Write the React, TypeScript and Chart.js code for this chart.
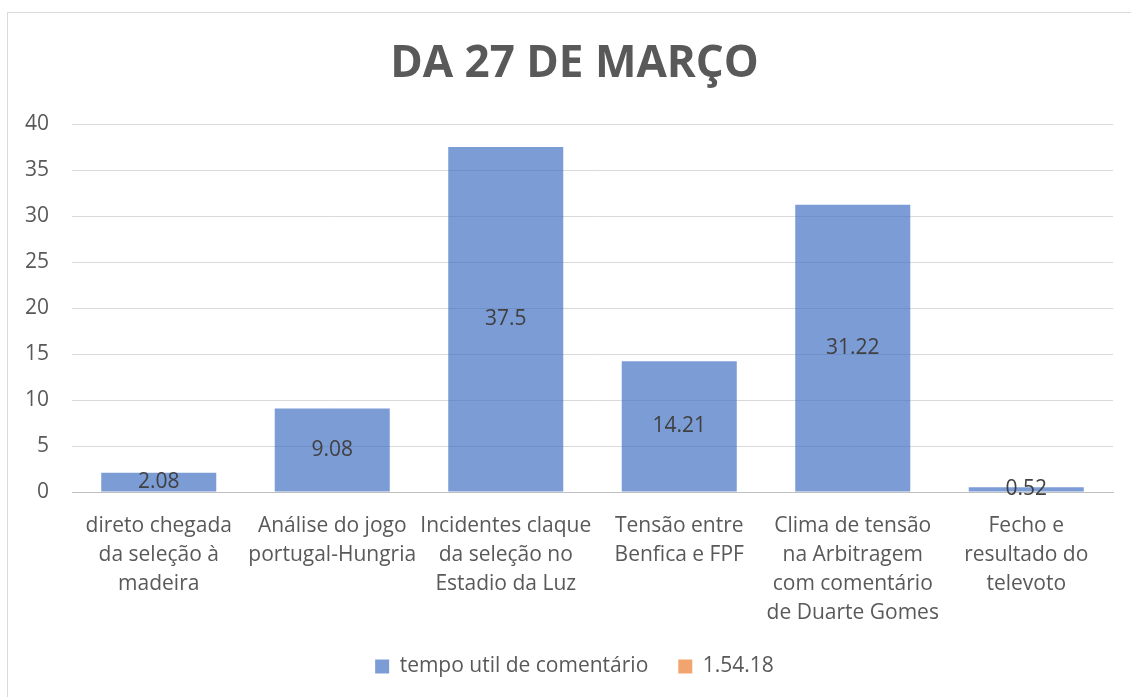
import React, { useEffect, useRef } from "react";
import { Chart, registerables } from "chart.js";

Chart.register(...registerables);

const TITLE = "DA 27 DE MARÇO";
const CATEGORIES: string[][] = [
  ["direto chegada", "da seleção à", "madeira"],
  ["Análise do jogo", "portugal-Hungria"],
  ["Incidentes claque", "da seleção no", "Estadio da Luz"],
  ["Tensão entre", "Benfica e FPF"],
  ["Clima de tensão", "na Arbitragem", "com comentário", "de Duarte Gomes"],
  ["Fecho e", "resultado do", "televoto"],
];
const SERIES_1_NAME = "tempo util de comentário";
const SERIES_1_VALUES = [2.08, 9.08, 37.5, 14.21, 31.22, 0.52];
const SERIES_2_NAME = "1.54.18";
const SERIES_2_VALUES: (number | null)[] = [null, null, null, null, null, null];
const Y_MIN = 0;
const Y_MAX = 40;
const Y_STEP = 5;

const FONT = "'Open Sans', 'Noto Sans', sans-serif";
const TEXT = "#595959";

const framePlugin = {
  id: "frame",
  beforeDraw(chart: any) {
    const ctx = chart.ctx;
    ctx.save();
    ctx.fillStyle = "#ffffff";
    ctx.fillRect(0, 0, chart.width, chart.height);
    ctx.strokeStyle = "#D9D9D9";
    ctx.lineWidth = 1;
    ctx.beginPath();
    ctx.moveTo(7.5, chart.height);
    ctx.lineTo(7.5, 12.5);
    ctx.lineTo(chart.width, 12.5);
    ctx.stroke();
    ctx.restore();
  },
};

// y tick labels drawn from the y scale's own ticks (the scale box is narrow, so the
// built-in labels would be clipped)
const yLabelPlugin = {
  id: "yLabels",
  afterDraw(chart: any) {
    const scale = chart.scales.y;
    const ctx = chart.ctx;
    ctx.save();
    ctx.font = `21px ${FONT}`;
    ctx.fillStyle = TEXT;
    ctx.textAlign = "right";
    ctx.textBaseline = "middle";
    scale.ticks.forEach((t: any, i: number) => {
      const y = scale.getPixelForTick(i);
      ctx.fillText(String(t.value), chart.chartArea.left - 23, y);
    });
    ctx.restore();
  },
};

const valueLabelPlugin = {
  id: "valueLabels",
  afterDatasetsDraw(chart: any) {
    const ctx = chart.ctx;
    const meta = chart.getDatasetMeta(0);
    const data = chart.data.datasets[0].data as number[];
    ctx.save();
    ctx.font = `21px ${FONT}`;
    ctx.fillStyle = "#404040";
    ctx.textAlign = "center";
    ctx.textBaseline = "middle";
    meta.data.forEach((bar: any, i: number) => {
      const y = (bar.y + bar.base) / 2;
      ctx.fillText(String(data[i]), bar.x, y);
    });
    ctx.restore();
  },
};

export default function App() {
  const ref = useRef<HTMLCanvasElement | null>(null);
  useEffect(() => {
    if (!ref.current) return;
    const chart = new Chart(ref.current, {
      type: "bar",
      data: {
        labels: CATEGORIES,
        datasets: [
          {
            label: SERIES_1_NAME,
            data: SERIES_1_VALUES,
            backgroundColor: "rgba(68,114,196,0.7)",
            borderWidth: 0,
          },
          {
            label: SERIES_2_NAME,
            data: SERIES_2_VALUES,
            backgroundColor: "rgba(237,125,49,0.7)",
            borderWidth: 0,
          },
        ],
      },
      options: {
        responsive: false,
        animation: false,
        datasets: {
          bar: {
            grouped: false,
            categoryPercentage: 1,
            barPercentage: 0.663,
          },
        },
        layout: { padding: { left: 36, right: 18, top: 0, bottom: 10 } },
        plugins: {
          title: {
            display: true,
            text: TITLE,
            color: TEXT,
            font: { family: FONT, size: 44, weight: "bold", lineHeight: 1.2 },
            padding: { top: 38, bottom: 33.2 },
          },
          legend: {
            position: "bottom",
            labels: {
              boxWidth: 14,
              boxHeight: 14,
              color: TEXT,
              font: { family: FONT, size: 21 },
              padding: 30,
            },
          },
          tooltip: { enabled: false },
        },
        scales: {
          x: {
            afterFit(scale: any) {
              scale.height = 134;
            },
            grid: { display: false, drawTicks: false },
            border: { display: true, color: "#BFBFBF", width: 1 },
            ticks: {
              color: TEXT,
              font: { family: FONT, size: 21, lineHeight: 1.38 },
              padding: 20,
              maxRotation: 0,
              minRotation: 0,
              autoSkip: false,
            },
          },
          y: {
            min: Y_MIN,
            max: Y_MAX,
            afterFit(scale: any) {
              scale.width = 36;
            },
            grid: { color: "#D9D9D9", drawTicks: false, lineWidth: 1 },
            border: { display: false },
            ticks: {
              stepSize: Y_STEP,
              display: false,
            },
          },
        },
      },
      plugins: [framePlugin, valueLabelPlugin, yLabelPlugin],
    });
    return () => chart.destroy();
  }, []);
  return (
    <div style={{ position: "fixed", left: 0, top: 0, width: 1131, height: 697 }}>
      <canvas ref={ref} width={1131} height={697} />
    </div>
  );
}
